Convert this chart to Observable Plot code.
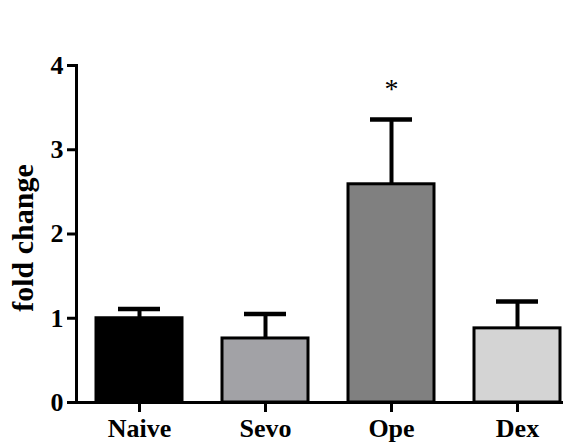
<!DOCTYPE html>
<html>
<head>
<meta charset="utf-8">
<script src="https://cdn.jsdelivr.net/npm/d3@7"></script>
<script src="https://cdn.jsdelivr.net/npm/@observablehq/plot@0.6"></script>
<style>
  html, body { margin: 0; padding: 0; background: #fff; }
  svg { display: block; }
</style>
</head>
<body>
<div id="chart"></div>
<script>
const groups = ["Naive", "Sevo", "Ope", "Dex"];
const means = [1.00, 0.76, 2.59, 0.88];
const errors = [0.11, 0.29, 0.77, 0.32];
const colors = ["#000000", "#a2a2a6", "#808080", "#d4d4d4"];
const marks = ["", "", "*", ""];
const yTicks = [0, 1, 2, 3, 4];
const yLabel = "fold change";

const data = groups.map((g, i) => ({group: g, mean: means[i], top: means[i] + errors[i], color: colors[i], mark: marks[i]}));
const font = "'Liberation Serif', 'Times New Roman', serif";

const chart = Plot.plot({
  width: 563,
  height: 446,
  marginLeft: 76,
  marginRight: 0,
  marginTop: 65,
  marginBottom: 44,
  style: {fontFamily: font, fontWeight: "bold", background: "#fff", color: "#000"},
  x: {domain: groups, range: [76, 580], paddingInner: 0.32, paddingOuter: 0.158, label: null},
  y: {domain: [0, 4], label: null},
  marks: [
    Plot.ruleX(data, {x: "group", y1: "mean", y2: "top", stroke: "#000", strokeWidth: 4}),
    Plot.tickY(data, {x: "group", y: "top", stroke: "#000", strokeWidth: 4.5, insetLeft: 22, insetRight: 22}),
    Plot.barY(data, {x: "group", y: "mean", fill: "color", stroke: "#000", strokeWidth: 3}),
    Plot.text(data, {x: "group", y: "top", text: "mark", dy: -30, fontSize: 28, fontWeight: "normal", fill: "#000"}),
    Plot.ruleY([0], {stroke: "#000", strokeWidth: 3}),
    Plot.frame({anchor: "left", stroke: "#000", strokeWidth: 3}),
    Plot.axisY({ticks: yTicks, tickFormat: d3.format("d"), tickSize: 9, tickPadding: 4, strokeWidth: 3, fontSize: 26, fontWeight: "bold", label: null}),
    Plot.axisX({tickSize: 10, tickPadding: 6, strokeWidth: 3, fontSize: 26, fontWeight: "bold", label: null}),
    Plot.text([yLabel], {frameAnchor: "left", textAnchor: "middle", rotate: -90, dx: -53, dy: 4, fontSize: 30, fontWeight: "bold", fill: "#000"})
  ]
});
document.getElementById("chart").appendChild(chart);
</script>
</body>
</html>
